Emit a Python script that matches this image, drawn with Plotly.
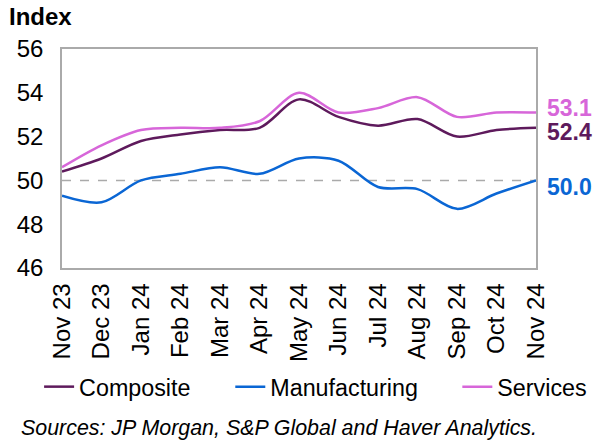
import plotly.graph_objects as go

months = ["Nov 23", "Dec 23", "Jan 24", "Feb 24", "Mar 24", "Apr 24", "May 24",
          "Jun 24", "Jul 24", "Aug 24", "Sep 24", "Oct 24", "Nov 24"]
composite = [50.4, 51.0, 51.8, 52.1, 52.3, 52.4, 53.7, 52.9, 52.5, 52.8, 52.0, 52.3, 52.4]
manufacturing = [49.3, 49.0, 50.0, 50.3, 50.6, 50.3, 51.0, 50.9, 49.7, 49.6, 48.7, 49.4, 50.0]
services = [50.6, 51.6, 52.3, 52.4, 52.4, 52.7, 54.0, 53.1, 53.3, 53.8, 52.9, 53.1, 53.1]
y_ticks = [46, 48, 50, 52, 54, 56]

C_COMP = "#5E1A5C"
C_MANU = "#0A66D4"
C_SERV = "#D766D9"
FONT = "Liberation Sans, Arial, sans-serif"

L, T, PW, PH = 62, 49, 476, 219
def px(v):
    return (v - L) / PW
def py(v):
    return (T + PH - v) / PH

x = list(range(len(months)))

fig = go.Figure()
series = [("Composite", composite, C_COMP, "legend", 39),
          ("Manufacturing", manufacturing, C_MANU, "legend2", 231),
          ("Services", services, C_SERV, "legend3", 459)]
for name, vals, col, lg, _ in series:
    fig.add_trace(go.Scatter(x=x, y=vals, name=name, mode="lines", legend=lg,
                             line=dict(color=col, width=2.5, shape="spline", smoothing=0.9)))

fig.add_shape(type="line", xref="paper", x0=0, x1=1, yref="y", y0=50, y1=50,
              line=dict(color="#AAAAAA", width=1.5, dash="dash"), layer="below")

# End labels
for vals, col, ys in [(services, C_SERV, 5), (composite, C_COMP, -4), (manufacturing, C_MANU, -7)]:
    fig.add_annotation(x=x[-1], y=vals[-1], text=f"<b>{vals[-1]:.1f}</b>", showarrow=False,
                       xanchor="left", yanchor="middle", xshift=9, yshift=ys,
                       font=dict(family=FONT, size=23, color=col))

fig.add_annotation(xref="paper", yref="paper", x=px(7), y=py(16),
                   text="<b>Index</b>", showarrow=False, xanchor="left", yanchor="middle",
                   font=dict(family=FONT, size=24, color="#000000"))
fig.add_annotation(xref="paper", yref="paper", x=px(19), y=py(428),
                   text="<i>Sources: JP Morgan, S&P Global and Haver Analytics.</i>",
                   showarrow=False, xanchor="left", yanchor="middle",
                   font=dict(family=FONT, size=21.4, color="#000000"))

legend_common = dict(orientation="h", xanchor="left", yanchor="middle",
                     font=dict(family=FONT, size=23.3, color="#000000"),
                     bgcolor="rgba(0,0,0,0)", itemwidth=30)
legends = {}
for name, vals, col, lg, lx in series:
    legends[lg] = dict(legend_common, x=px(lx), y=py(387))

fig.update_layout(
    width=604, height=445,
    margin=dict(l=L, r=604 - L - PW, t=T, b=445 - T - PH),
    paper_bgcolor="white", plot_bgcolor="white",
    font=dict(family=FONT, size=23, color="#000000"),
    showlegend=True,
    **legends,
)
fig.update_xaxes(range=[0, 12], tickmode="array", tickvals=x, ticktext=months,
                 tickangle=-90, showgrid=False, zeroline=False,
                 showline=True, linecolor="#AAAAAA", linewidth=1.5, mirror=True,
                 ticks="", ticklabelstandoff=4, tickfont=dict(size=24))
fig.update_yaxes(range=[46, 56], tickmode="array", tickvals=y_ticks,
                 showgrid=False, zeroline=False,
                 showline=True, linecolor="#AAAAAA", linewidth=1.5, mirror=True,
                 ticks="", ticklabelstandoff=12, tickfont=dict(size=24))

fig.write_html("out.html", config={"displayModeBar": False},
               post_script="document.body.style.margin='0';")
